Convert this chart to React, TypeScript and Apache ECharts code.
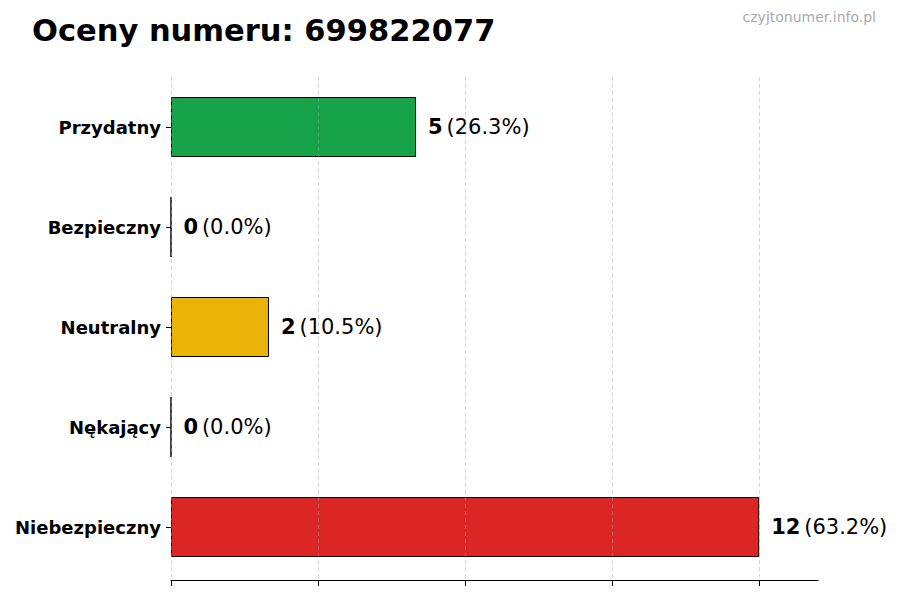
import { useEffect, useRef } from 'react';
import * as echarts from 'echarts';

const categories = ['Przydatny', 'Bezpieczny', 'Neutralny', 'Nękający', 'Niebezpieczny'];
const counts = [5, 0, 2, 0, 12];
const barColors = ['#16a34a', '#16a34a', '#eab308', '#dc2626', '#dc2626'];
const gridValues = [0, 3, 6, 9, 12];
const titleText = 'Oceny numeru: 699822077';
const watermark = 'czyjtonumer.info.pl';

const FONT = '"DejaVu Sans", sans-serif';

export default function App() {
  const chartRef = useRef<HTMLDivElement | null>(null);

  useEffect(() => {
    if (!chartRef.current) return undefined;
    const chart = echarts.init(chartRef.current, null, { renderer: 'svg' });
    const total = counts.reduce((a, b) => a + b, 0);

    chart.setOption({
      animation: false,
      textStyle: { fontFamily: FONT },
      title: [
        {
          text: titleText,
          left: 32,
          top: 15,
          padding: 0,
          textStyle: { fontFamily: FONT, fontSize: 30.5, fontWeight: 'bold', color: '#000' },
        },
        {
          text: watermark,
          right: 24,
          top: 10,
          padding: 0,
          textStyle: { fontFamily: FONT, fontSize: 14, fontWeight: 'normal', color: '#aaaaaa' },
        },
      ],
      grid: { left: 171, right: 82, top: 77, bottom: 23, containLabel: false },
      xAxis: {
        type: 'value',
        min: 0,
        max: 13.2,
        interval: 3,
        offset: 3,
        axisLine: { show: true, lineStyle: { color: '#000', width: 1 } },
        axisTick: { show: true, length: 6, customValues: gridValues, lineStyle: { color: '#000' } },
        axisLabel: { show: false },
        splitLine: { show: false },
      },
      yAxis: {
        type: 'category',
        data: categories,
        inverse: true,
        axisLine: { show: false },
        axisTick: { show: true, length: 5, alignWithLabel: true, lineStyle: { color: '#000' } },
        axisLabel: {
          color: '#000',
          fontSize: 18,
          fontWeight: 'bold',
          fontFamily: FONT,
          margin: 10,
        },
        splitLine: { show: false },
      },
      series: [
        {
          type: 'bar',
          barWidth: '60%',
          data: counts.map((v, i) => ({
            value: v,
            itemStyle: { color: barColors[i], borderColor: '#000', borderWidth: 1 },
          })),
          label: {
            show: true,
            position: 'right',
            distance: 12,
            formatter: (p: { value: number }) =>
              `{b|${p.value}} {n|(${((p.value / total) * 100).toFixed(1)}%)}`,
            rich: {
              b: { fontFamily: FONT, fontSize: 21, fontWeight: 'bold', color: '#000' },
              n: { fontFamily: FONT, fontSize: 21, color: '#000' },
            },
          },
          markLine: {
            silent: true,
            symbol: 'none',
            label: { show: false },
            lineStyle: { type: [4, 3], color: 'rgba(160,160,160,0.45)', width: 1 },
            data: gridValues.map((x) => ({ xAxis: x })),
            z: 10,
          },
        },
      ],
    });

    return () => chart.dispose();
  }, []);

  return (
    <div
      ref={chartRef}
      style={{ position: 'fixed', left: 0, top: 0, width: 900, height: 600, background: '#fff' }}
    />
  );
}
